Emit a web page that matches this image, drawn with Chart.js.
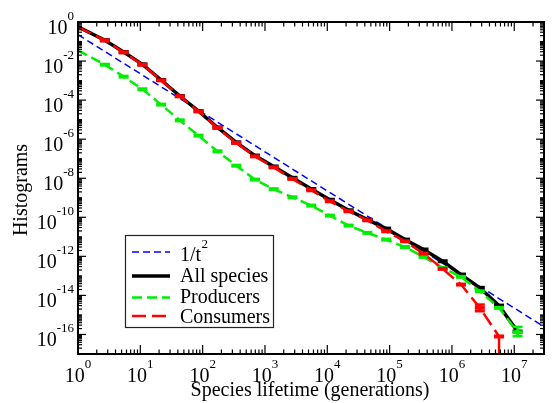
<!DOCTYPE html>
<html>
<head>
<meta charset="utf-8">
<script src="https://cdn.jsdelivr.net/npm/chart.js@4.4.1/dist/chart.umd.min.js"></script>
<style>
  html, body { margin: 0; padding: 0; background: #fff; }
  canvas { display: block; }
</style>
</head>
<body>
<canvas id="c" width="553" height="403"></canvas>
<script>
// Lifetime bins (generations), log-spaced by factors of two
const lifetimes = [1, 2.7, 5.4, 10.8, 21.6, 43, 86, 173, 346, 691, 1380, 2760, 5530,
  1.1e4, 2.2e4, 4.4e4, 8.8e4, 1.77e5, 3.5e5, 7.1e5, 1.4e6, 2.8e6, 5.7e6, 1.13e7];

// Normalised lifetime histograms
const allSpecies = [5.75e-1, 1.17e-1, 2.88e-2, 6.8e-3, 1.07e-3, 1.62e-4, 2.75e-5, 3.98e-6,
  6.9e-7, 1.45e-7, 3.98e-8, 1.05e-8, 2.82e-9, 7.9e-10, 2.29e-10, 7.6e-11, 2.63e-11,
  7.2e-12, 2.24e-12, 5.6e-13, 1.17e-13, 2.45e-14, 3.0e-15, 1.41e-16];
const producers = [3.5e-2, 6.5e-3, 1.59e-3, 3.6e-4, 5.9e-5, 9.2e-6, 1.52e-6, 2.39e-7,
  4.4e-8, 8.5e-9, 2.75e-9, 1.06e-9, 3.97e-10, 1.22e-10, 3.76e-11, 1.59e-11, 7.2e-12,
  3.0e-12, 9.4e-13, 2.57e-13, 8.9e-14, 1.63e-14, 2.31e-15, 1.30e-16];
const consumers = [5.55e-1, 1.14e-1, 2.78e-2, 6.5e-3, 1.03e-3, 1.56e-4, 2.66e-5, 3.76e-6,
  6.4e-7, 1.32e-7, 3.6e-8, 9.2e-9, 2.41e-9, 6.6e-10, 2.03e-10, 7.0e-11, 1.92e-11,
  5.9e-12, 1.39e-12, 2.29e-13, 3.6e-14, 2.31e-15, 7.9e-17, null];

// Error bars: [lifetime, lower, upper]
const producerErrors = [[1.13e7, 8.1e-17, 2.45e-16]];
const consumerErrors = [[2.8e6, 1.55e-15, 3.4e-15], [5.7e6, 1e-19, 7.9e-17]];

// Reference power law 1/t^2 (end points)
const guideLifetimes = [1, 3e7];
const guideValues = [0.224, 2.49e-16];

// Axis ranges and labelled decades
const xMin = 1, xMax = 3e7;
const yMin = 1e-17, yMax = 1;
const xLabelExponents = [0, 1, 2, 3, 4, 5, 6, 7];
const yLabelExponents = [0, -2, -4, -6, -8, -10, -12, -14, -16];

const legendNames = ['1/t', 'All species', 'Producers', 'Consumers'];

const SERIF = '"Liberation Serif", "Times New Roman", serif';

function pts(xs, ys) {
  const out = [];
  xs.forEach((x, i) => { if (ys[i] != null) out.push({ x: x, y: ys[i] }); });
  return out;
}
function markerRadii(ys) {
  return ys.filter(v => v != null).map((v, i) => (i === 0 ? 0 : 5));
}

const datasets = [
  {
    label: legendNames[0],
    data: pts(guideLifetimes, guideValues),
    borderColor: '#0000ff', borderWidth: 1.5, borderDash: [7, 4],
    pointRadius: 0, order: 3
  },
  {
    label: legendNames[1],
    data: pts(lifetimes, allSpecies),
    borderColor: '#000000', borderWidth: 3.5,
    pointStyle: 'line', pointRadius: markerRadii(allSpecies), pointBorderWidth: 4,
    pointBorderColor: '#000000', order: 2
  },
  {
    label: legendNames[2],
    data: pts(lifetimes, producers),
    borderColor: '#00ee00', borderWidth: 2.5, borderDash: [10, 5],
    pointStyle: 'line', pointRadius: markerRadii(producers), pointBorderWidth: 4,
    pointBorderColor: '#00ee00', order: 1, errors: producerErrors
  },
  {
    label: legendNames[3],
    data: pts(lifetimes, consumers),
    borderColor: '#ff0000', borderWidth: 2.5, borderDash: [14, 6],
    pointStyle: 'line', pointRadius: markerRadii(consumers), pointBorderWidth: 4,
    pointBorderColor: '#ff0000', order: 0, errors: consumerErrors
  }
];

function line(ctx, x1, y1, x2, y2) {
  ctx.beginPath(); ctx.moveTo(x1, y1); ctx.lineTo(x2, y2); ctx.stroke();
}

function powerLabel(ctx, exp, x, y, align) {
  // "10" with a raised exponent; align: 'center' (x axis) or 'right' (y axis)
  const base = '10', sup = String(exp);
  ctx.font = '20px ' + SERIF;
  const wb = ctx.measureText(base).width;
  ctx.font = '13px ' + SERIF;
  const ws = ctx.measureText(sup).width;
  const start = align === 'center' ? x - (wb + ws) / 2 : x - (wb + ws);
  ctx.textAlign = 'left';
  ctx.textBaseline = 'alphabetic';
  ctx.font = '20px ' + SERIF;
  ctx.fillText(base, start, y);
  ctx.font = '13px ' + SERIF;
  ctx.fillText(sup, start + wb, y - 13.5);
}

const decor = {
  id: 'decor',
  afterDatasetsDraw(chart) {
    const ctx = chart.ctx, a = chart.chartArea;
    const xs = chart.scales.x, ys = chart.scales.y;
    ctx.save();
    ctx.beginPath(); ctx.rect(a.left, a.top, a.right - a.left, a.bottom - a.top); ctx.clip();
    chart.data.datasets.forEach(ds => {
      if (!ds.errors) return;
      ctx.strokeStyle = ds.borderColor;
      ctx.lineWidth = 2.5;
      ctx.setLineDash([]);
      ds.errors.forEach(([x, lo, hi]) => {
        const px = xs.getPixelForValue(x);
        const pl = ys.getPixelForValue(lo), ph = ys.getPixelForValue(hi);
        line(ctx, px, pl, px, ph);
        line(ctx, px - 5, ph, px + 5, ph);
        line(ctx, px - 5, pl, px + 5, pl);
      });
    });
    ctx.restore();
  },
  afterDraw(chart) {
    const ctx = chart.ctx, a = chart.chartArea;
    const xs = chart.scales.x, ys = chart.scales.y;
    ctx.save();
    ctx.setLineDash([]);
    ctx.strokeStyle = '#000';
    ctx.fillStyle = '#000';

    // frame
    ctx.lineWidth = 2;
    ctx.strokeRect(a.left, a.top, a.right - a.left, a.bottom - a.top);

    // inward ticks on all four sides
    ctx.lineWidth = 1.2;
    for (let n = 0; n <= 7; n++) {
      for (let m = 1; m <= 9; m++) {
        const v = m * Math.pow(10, n);
        if (v < xMin || v > xMax) continue;
        const px = xs.getPixelForValue(v);
        const len = m === 1 ? 9 : 4.5;
        line(ctx, px, a.bottom, px, a.bottom - len);
        line(ctx, px, a.top, px, a.top + len);
      }
    }
    for (let n = -17; n <= 0; n++) {
      for (let m = 1; m <= 9; m++) {
        const v = m * Math.pow(10, n);
        if (v < yMin * 0.999 || v > yMax * 1.001) continue;
        const py = ys.getPixelForValue(v);
        const len = (m === 1 && n % 2 === 0) ? 8 : 4;
        line(ctx, a.left, py, a.left + len, py);
        line(ctx, a.right, py, a.right - len, py);
      }
    }

    // tick labels
    xLabelExponents.forEach(e => {
      powerLabel(ctx, e, xs.getPixelForValue(Math.pow(10, e)), a.bottom + 27.5, 'center');
    });
    yLabelExponents.forEach(e => {
      powerLabel(ctx, e, a.left - 4, ys.getPixelForValue(Math.pow(10, e)) + 11.5, 'right');
    });

    // axis titles
    ctx.font = '20px ' + SERIF;
    ctx.textAlign = 'center';
    ctx.textBaseline = 'alphabetic';
    ctx.fillText('Species lifetime (generations)', 310, 396);
    ctx.save();
    ctx.translate(27, 190);
    ctx.rotate(-Math.PI / 2);
    ctx.fillText('Histograms', 0, 0);
    ctx.restore();

    // legend box
    ctx.lineWidth = 1.2;
    ctx.strokeStyle = '#222';
    ctx.strokeRect(125.5, 235.5, 148, 92);
    const rowLine = [252, 276, 297.5, 316];
    const rowText = [261, 282, 303, 322.5];
    const order = [0, 1, 2, 3];
    order.forEach((di, r) => {
      const ds = chart.data.datasets[di];
      ctx.strokeStyle = ds.borderColor;
      ctx.lineWidth = ds.borderWidth;
      ctx.setLineDash(ds.borderDash || []);
      line(ctx, 132, rowLine[r], 170, rowLine[r]);
      ctx.setLineDash([]);
      ctx.fillStyle = '#000';
      ctx.textAlign = 'left';
      ctx.font = '20px ' + SERIF;
      ctx.fillText(ds.label, 180, rowText[r]);
      if (r === 0) {
        const w = ctx.measureText(ds.label).width;
        ctx.font = '13px ' + SERIF;
        ctx.fillText('2', 180 + w + 0.5, rowText[r] - 13);
      }
    });
    ctx.restore();
  }
};

new Chart(document.getElementById('c'), {
  type: 'line',
  data: { datasets: datasets },
  options: {
    responsive: false,
    animation: false,
    layout: { padding: { left: 78, top: 22, right: 4, bottom: 49 } },
    elements: { line: { tension: 0, fill: false } },
    plugins: { legend: { display: false }, tooltip: { enabled: false } },
    scales: {
      x: { type: 'logarithmic', min: xMin, max: xMax, display: false },
      y: { type: 'logarithmic', min: yMin, max: yMax, display: false }
    }
  },
  plugins: [decor]
});
</script>
</body>
</html>
